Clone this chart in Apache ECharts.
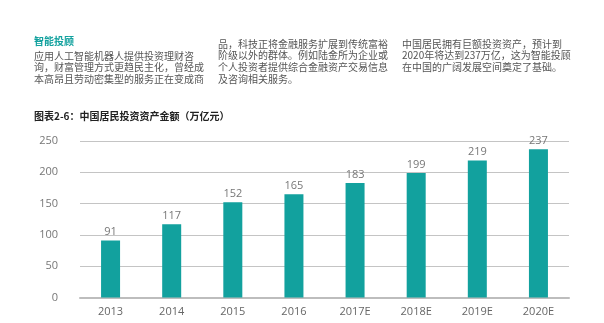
<!DOCTYPE html>
<html>
<head>
<meta charset="utf-8">
<script src="https://cdn.jsdelivr.net/npm/echarts@6/dist/echarts.min.js"></script>
<style>
  html, body { margin: 0; padding: 0; background: #fff; }
  #chart { width: 604px; height: 323px; }
</style>
</head>
<body>
<div id="chart"></div>
<script>
// Household investable assets in China (trillion yuan)
const years = ['2013', '2014', '2015', '2016', '2017E', '2018E', '2019E', '2020E'];
const assets = [91, 117, 152, 165, 183, 199, 219, 237];
const yTicks = [0, 50, 100, 150, 200, 250];

const heading = '智能投顾';
const col1 = ['应用人工智能机器人提供投资理财咨', '询，财富管理方式更趋民主化，曾经成', '本高昂且劳动密集型的服务正在变成商'];
const col2 = ['品，科技正将金融服务扩展到传统富裕', '阶级以外的群体。例如陆金所为企业或', '个人投资者提供综合金融资产交易信息', '及咨询相关服务。'];
const col3 = ['中国居民拥有巨额投资资产，预计到', '2020年将达到237万亿，这为智能投顾', '在中国的广阔发展空间奠定了基础。'];
const chartTitle = '图表2-6：中国居民投资资产金额（万亿元）';

const FONT = '"Noto Sans CJK SC", "Open Sans", sans-serif';
const TEAL = '#12a19e';

const chart = echarts.init(document.getElementById('chart'), null, { renderer: 'canvas' });

const bodyStyle = {
  fill: '#555', fontSize: 10, fontFamily: FONT, lineHeight: 11.7,
  verticalAlign: 'middle'
};

chart.setOption({
  animation: false,
  graphic: [
    { type: 'text', left: 34, top: 36, style: { text: heading, fill: TEAL, fontSize: 10, fontWeight: 'bold', fontFamily: FONT } },
    { type: 'text', left: 34, top: 50, style: Object.assign({ text: col1.join('\n') }, bodyStyle) },
    { type: 'text', left: 218, top: 38, style: Object.assign({ text: col2.join('\n') }, bodyStyle) },
    { type: 'text', left: 402, top: 38, style: Object.assign({ text: col3.join('\n') }, bodyStyle) },
    { type: 'text', left: 34, top: 111, style: { text: chartTitle, fill: '#222', fontSize: 10, fontWeight: 'bold', fontFamily: FONT } }
  ],
  grid: { left: 80, right: 35, top: 141, bottom: 25.5 },
  xAxis: {
    type: 'category',
    data: years,
    axisTick: { show: false },
    axisLine: { show: true, lineStyle: { color: '#bdbdbd', width: 2 } },
    axisLabel: { color: '#666', fontSize: 11, fontFamily: '"Open Sans", sans-serif', margin: 9 }
  },
  yAxis: {
    type: 'value',
    min: yTicks[0],
    max: yTicks[yTicks.length - 1],
    interval: yTicks[1] - yTicks[0],
    axisLine: { show: false },
    axisTick: { show: false },
    axisLabel: { color: '#777', fontSize: 11, fontFamily: '"Open Sans", sans-serif', margin: 22 },
    splitLine: { lineStyle: { color: '#c4c4c4', width: 1 } }
  },
  series: [{
    type: 'bar',
    data: assets,
    barWidth: 19,
    itemStyle: { color: TEAL },
    label: {
      show: true, position: 'top', distance: 3,
      color: '#777', fontSize: 11, fontFamily: '"Open Sans", sans-serif'
    }
  }]
});
</script>
</body>
</html>
